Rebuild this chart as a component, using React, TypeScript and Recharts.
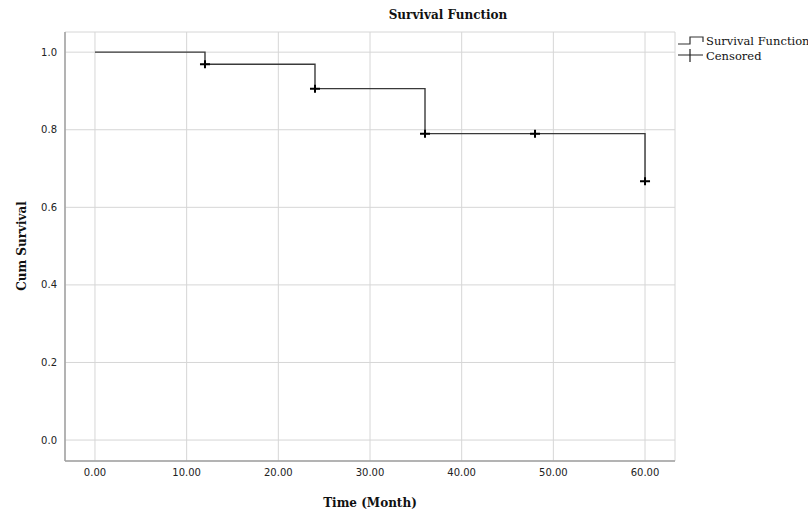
import {
  ComposedChart,
  Line,
  Scatter,
  XAxis,
  YAxis,
  CartesianGrid,
  Label,
} from "recharts";

// survival curve (step points)
const stepTimes = [0, 12, 24, 36, 48, 60];
const survival = [1.0, 0.969, 0.906, 0.79, 0.79, 0.667];

// censored marks
const censorTimes = [12, 24, 36, 48, 60];
const censorSurvival = [0.969, 0.906, 0.79, 0.79, 0.667];

const xTicks = [0, 10, 20, 30, 40, 50, 60];
const yTicks = [0, 0.2, 0.4, 0.6, 0.8, 1.0];

const curveData = stepTimes.map((t, i) => ({ t, s: survival[i] }));
const censorData = censorTimes.map((t, i) => ({ t, s: censorSurvival[i] }));

const serif = "'DejaVu Serif', 'Liberation Serif', serif";
const sans = "'DejaVu Sans', sans-serif";

const PlusMark = (props: any) => {
  const { cx, cy } = props;
  if (cx == null || cy == null) return null;
  return (
    <path
      d={`M${cx - 5},${cy}H${cx + 5}M${cx},${cy - 4}V${cy + 4}`}
      stroke="#000"
      strokeWidth={2}
      fill="none"
    />
  );
};

export default function App() {
  return (
    <div
      style={{
        position: "absolute",
        left: 0,
        top: 0,
        width: 808,
        height: 511,
        background: "#fff",
      }}
    >
      <div
        style={{
          position: "absolute",
          left: 348,
          width: 200,
          top: 8,
          textAlign: "center",
          fontFamily: serif,
          fontWeight: "bold",
          fontSize: 12,
          color: "#111",
        }}
      >
        Survival Function
      </div>

      <div style={{ position: "absolute", left: 677, top: 33, fontFamily: serif, fontSize: 11.5, color: "#111", whiteSpace: "nowrap" }}>
        <div style={{ display: "flex", alignItems: "center", height: 15 }}>
          <svg width={29} height={13}>
            <path d="M1,10H13V3H26V8" stroke="#333" strokeWidth={1.2} fill="none" />
          </svg>
          <span>Survival Function</span>
        </div>
        <div style={{ display: "flex", alignItems: "center", height: 15 }}>
          <svg width={29} height={15}>
            <path d="M1,7H26M13,1V14" stroke="#222" strokeWidth={1.2} fill="none" />
          </svg>
          <span>Censored</span>
        </div>
      </div>

      <ComposedChart
        width={808}
        height={511}
        margin={{ top: 32, right: 133, bottom: 0, left: 0 }}
      >
        <CartesianGrid stroke="#d6d6d6" strokeWidth={1} />
        <XAxis
          type="number"
          dataKey="t"
          domain={[-3.27, 63.27]}
          allowDataOverflow
          ticks={xTicks}
          tickFormatter={(v: number) => v.toFixed(2)}
          tickLine={false}
          axisLine={{ stroke: "#a0a0a0", strokeWidth: 1.5 }}
          height={50}
          tick={{ fontFamily: sans, fontSize: 10, fill: "#222" }}
        >
          <Label
            value="Time (Month)"
            position="insideBottom"
            offset={4}
            style={{ fontFamily: serif, fontWeight: "bold", fontSize: 12, fill: "#111" }}
          />
        </XAxis>
        <YAxis
          type="number"
          dataKey="s"
          domain={[-0.054, 1.052]}
          allowDataOverflow
          ticks={yTicks}
          tickFormatter={(v: number) => v.toFixed(1)}
          tickLine={false}
          axisLine={{ stroke: "#a0a0a0", strokeWidth: 1.5 }}
          width={65}
          tick={{ fontFamily: sans, fontSize: 10, fill: "#222" }}
        >
          <Label
            content={() => (
              <text
                x={22}
                y={246}
                transform="rotate(-90 22 246)"
                textAnchor="middle"
                dominantBaseline="central"
                style={{ fontFamily: serif, fontWeight: "bold", fontSize: 12, fill: "#111" }}
              >
                Cum Survival
              </text>
            )}
          />
        </YAxis>
        <Line
          data={curveData}
          dataKey="s"
          type="stepAfter"
          stroke="#3a3a3a"
          strokeWidth={1.4}
          dot={false}
          activeDot={false}
          isAnimationActive={false}
        />
        <Scatter
          data={censorData}
          dataKey="s"
          shape={PlusMark}
          isAnimationActive={false}
        />
      </ComposedChart>
    </div>
  );
}
